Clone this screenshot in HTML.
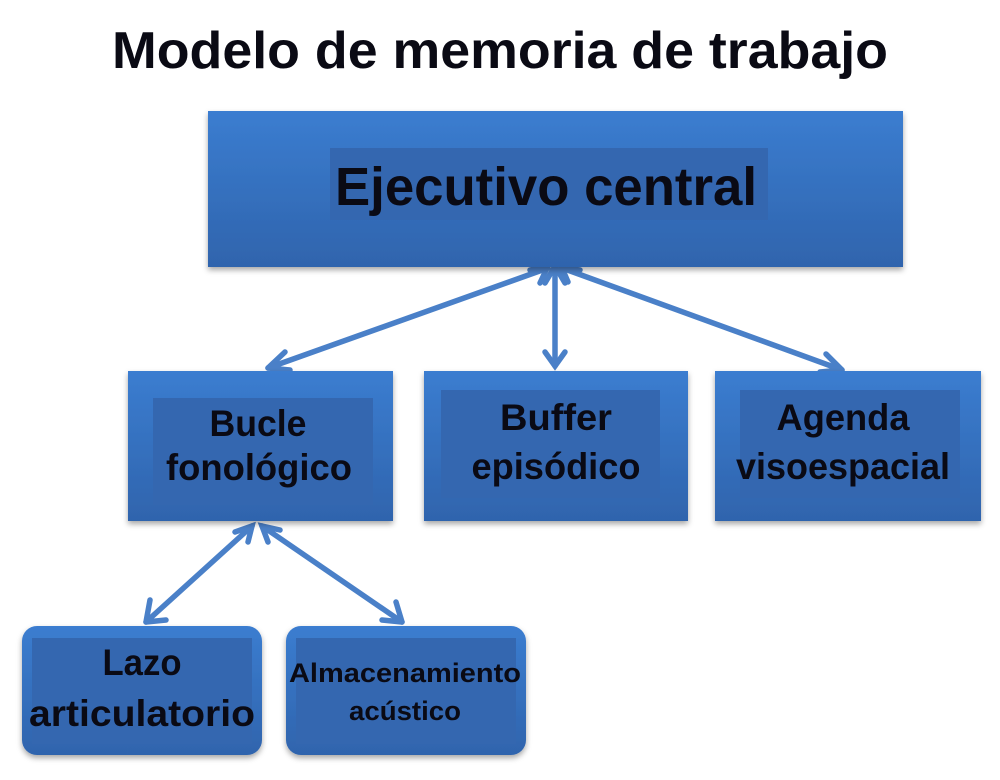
<!DOCTYPE html>
<html><head><meta charset="utf-8"><style>
body{margin:0;background:#fff;}
svg{display:block;}
text{font-family:"Liberation Sans",sans-serif;font-weight:bold;fill:#0a0a14;}
</style></head><body>
<svg width="1000" height="780" viewBox="0 0 1000 780" xmlns="http://www.w3.org/2000/svg">
<defs>
<linearGradient id="g" x1="0" y1="0" x2="0" y2="1">
<stop offset="0" stop-color="#3b7dd0"/><stop offset="1" stop-color="#2f64ad"/></linearGradient>
<filter id="s" x="-10%" y="-10%" width="120%" height="130%"><feDropShadow dx="0" dy="3" stdDeviation="3" flood-color="#000" flood-opacity="0.35"/></filter>
</defs>
<text x="500" y="68" font-size="52" text-anchor="middle" textLength="776" lengthAdjust="spacingAndGlyphs">Modelo de memoria de trabajo</text>

<g stroke="#4a80c8" stroke-width="5.5" fill="none" stroke-linecap="round">
<line x1="548" y1="268" x2="268" y2="368"/>
<line x1="555" y1="268" x2="555" y2="366"/>
<line x1="562" y1="268" x2="842" y2="370"/>
<line x1="252" y1="526" x2="146" y2="622"/>
<line x1="262" y1="526" x2="402" y2="622"/>
<path d="M530,270 L548,266 L540,283 M268,368 L285,352 M268,368 L290,370"/>
<path d="M545,283 L555,266 L565,283 M545,352 L555,366 L565,352"/>
<path d="M568,282 L562,268 L580,270 M842,370 L820,372 M842,370 L826,354"/>
<path d="M235,532 L252,526 L248,542 M146,622 L150,600 M146,622 L166,620"/>
<path d="M268,542 L262,526 L280,530 M402,622 L382,620 M402,622 L396,602"/>
</g>

<g filter="url(#s)" fill="url(#g)">
<rect x="208" y="111" width="695" height="156"/>
<rect x="128" y="371" width="265" height="150"/>
<rect x="424" y="371" width="264" height="150"/>
<rect x="715" y="371" width="266" height="150"/>
<rect x="22" y="626" width="240" height="129" rx="15"/>
<rect x="286" y="626" width="240" height="129" rx="15"/>
</g>
<g fill="#3467b0">
<rect x="330" y="148" width="438" height="72"/>
<rect x="153" y="398" width="220" height="107"/>
<rect x="441" y="390" width="219" height="108"/>
<rect x="740" y="390" width="220" height="108"/>
<rect x="32" y="638" width="220" height="106"/>
<rect x="296" y="638" width="220" height="106"/>
</g>
<text x="546" y="205" font-size="54" text-anchor="middle" textLength="422" lengthAdjust="spacingAndGlyphs">Ejecutivo central</text>
<text x="258" y="436" font-size="37" text-anchor="middle" textLength="97" lengthAdjust="spacingAndGlyphs">Bucle</text>
<text x="259" y="480" font-size="37" text-anchor="middle" textLength="186" lengthAdjust="spacingAndGlyphs">fonológico</text>
<text x="556" y="430" font-size="37" text-anchor="middle" textLength="112" lengthAdjust="spacingAndGlyphs">Buffer</text>
<text x="556" y="479" font-size="37" text-anchor="middle" textLength="169" lengthAdjust="spacingAndGlyphs">episódico</text>
<text x="843" y="430" font-size="37" text-anchor="middle" textLength="133" lengthAdjust="spacingAndGlyphs">Agenda</text>
<text x="843" y="479" font-size="37" text-anchor="middle" textLength="214" lengthAdjust="spacingAndGlyphs">visoespacial</text>
<text x="142" y="675" font-size="37" text-anchor="middle" textLength="79" lengthAdjust="spacingAndGlyphs">Lazo</text>
<text x="142" y="726" font-size="37" text-anchor="middle" textLength="226" lengthAdjust="spacingAndGlyphs">articulatorio</text>
<text x="405" y="682" font-size="27" text-anchor="middle" textLength="232" lengthAdjust="spacingAndGlyphs">Almacenamiento</text>
<text x="405" y="720" font-size="27" text-anchor="middle" textLength="112" lengthAdjust="spacingAndGlyphs">acústico</text>
</svg>
</body></html>
